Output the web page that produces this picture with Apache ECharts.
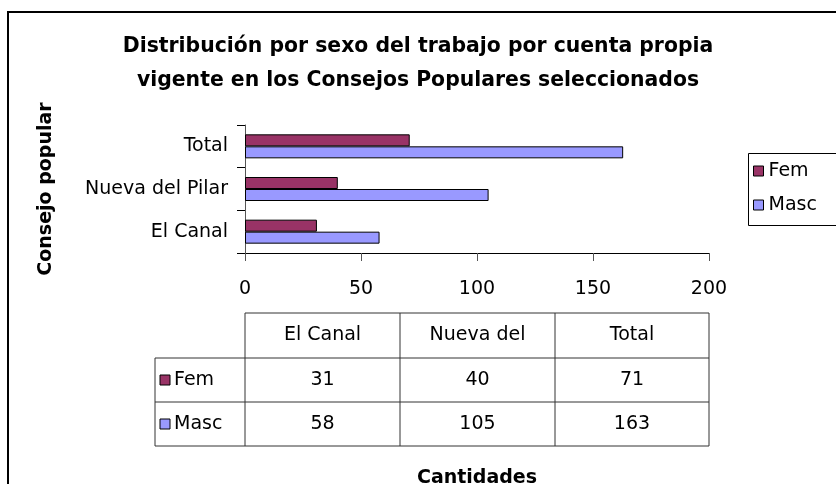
<!DOCTYPE html>
<html>
<head>
<meta charset="utf-8">
<title>Distribución por sexo</title>
<script src="https://cdn.jsdelivr.net/npm/echarts@6/dist/echarts.min.js"></script>
<style>
  html, body { margin: 0; padding: 0; background: #fff; }
  #chartOne { width: 836px; height: 484px; }
</style>
</head>
<body>
<div id="chartOne"></div>
<script>
var categories = ['El Canal', 'Nueva del Pilar', 'Total']
var tableHeaders = ['El Canal', 'Nueva del', 'Total']
var femData = [31, 40, 71]
var mascData = [58, 105, 163]
var xTicks = [0, 50, 100, 150, 200]

var font = 'DejaVu Sans'
var femColor = '#993366'
var mascColor = '#9999FF'

// data table under the plot (Excel style)
function buildTable () {
  var colX = [245, 400, 555, 709]
  var rowY = [313, 358, 402, 446]
  var labelLeft = 155
  var lineStyle = { stroke: '#333', lineWidth: 1 }
  var els = []
  // horizontal lines
  els.push({ type: 'line', shape: { x1: colX[0], y1: rowY[0], x2: colX[3], y2: rowY[0] }, style: lineStyle })
  for (var r = 1; r < rowY.length; r++) {
    els.push({ type: 'line', shape: { x1: labelLeft, y1: rowY[r], x2: colX[3], y2: rowY[r] }, style: lineStyle })
  }
  // vertical lines
  els.push({ type: 'line', shape: { x1: labelLeft, y1: rowY[1], x2: labelLeft, y2: rowY[3] }, style: lineStyle })
  for (var c = 0; c < colX.length; c++) {
    els.push({ type: 'line', shape: { x1: colX[c], y1: rowY[0], x2: colX[c], y2: rowY[3] }, style: lineStyle })
  }
  var rows = [
    { name: 'Fem', color: femColor, values: femData },
    { name: 'Masc', color: mascColor, values: mascData }
  ]
  tableHeaders.forEach(function (h, i) {
    els.push({
      type: 'text',
      style: { text: h, x: (colX[i] + colX[i + 1]) / 2, y: (rowY[0] + rowY[1]) / 2, align: 'center', verticalAlign: 'middle', font: '19px "' + font + '"', fill: '#000' }
    })
  })
  rows.forEach(function (row, r) {
    var cy = (rowY[r + 1] + rowY[r + 2]) / 2
    els.push({ type: 'rect', shape: { x: labelLeft + 5, y: cy - 5, width: 10, height: 10 }, style: { fill: row.color, stroke: '#000', lineWidth: 1 } })
    els.push({ type: 'text', style: { text: row.name, x: labelLeft + 19, y: cy, verticalAlign: 'middle', font: '19px "' + font + '"', fill: '#000' } })
    row.values.forEach(function (v, i) {
      els.push({
        type: 'text',
        style: { text: String(v), x: (colX[i] + colX[i + 1]) / 2, y: cy, align: 'center', verticalAlign: 'middle', font: '19px "' + font + '"', fill: '#000' }
      })
    })
  })
  return els
}

var myChartOne = echarts.init(document.getElementById('chartOne'), null, { renderer: 'canvas' })
myChartOne.setOption({
  backgroundColor: '#fff',
  animation: false,
  textStyle: { fontFamily: font },
  title: {
    text: 'Distribución por sexo del trabajo por cuenta propia\nvigente en los Consejos Populares seleccionados',
    left: 'center',
    top: 25,
    textStyle: { fontFamily: font, fontSize: 20.4, fontWeight: 'bold', color: '#000', lineHeight: 34 }
  },
  legend: {
    data: ['Fem', 'Masc'],
    orient: 'vertical',
    left: 748,
    top: 153,
    padding: [7, 10, 9, 5],
    itemGap: 12,
    itemWidth: 10,
    itemHeight: 10,
    icon: 'rect',
    itemStyle: { borderColor: '#000', borderWidth: 1 },
    textStyle: { fontFamily: font, fontSize: 19, color: '#000', lineHeight: 22 }
  },
  grid: {
    left: 245,
    top: 125,
    width: 464,
    height: 128,
    containLabel: false,
    outerBoundsMode: 'none'
  },
  xAxis: {
    type: 'value',
    min: xTicks[0],
    max: xTicks[xTicks.length - 1],
    interval: 50,
    name: 'Cantidades',
    nameLocation: 'middle',
    nameGap: 216,
    nameTextStyle: { fontFamily: font, fontSize: 19, fontWeight: 'bold', color: '#000' },
    axisLine: { show: true, lineStyle: { color: '#000', width: 1 } },
    axisTick: { show: true, length: 8, lineStyle: { color: '#555' } },
    axisLabel: { color: '#000', fontSize: 19, margin: 27 },
    splitLine: { show: false }
  },
  yAxis: {
    type: 'category',
    data: categories,
    name: 'Consejo popular',
    nameLocation: 'middle',
    nameRotate: 90,
    nameGap: 189,
    nameTextStyle: { fontFamily: font, fontSize: 19, fontWeight: 'bold', color: '#000' },
    axisLine: { show: true, lineStyle: { color: '#555', width: 1 } },
    axisTick: { show: true, length: 8, lineStyle: { color: '#000' } },
    axisLabel: { color: '#000', fontSize: 19, margin: 17 }
  },
  series: [
    {
      name: 'Fem',
      type: 'bar',
      data: femData,
      barWidth: 12,
      barGap: '0%',
      itemStyle: { color: femColor, borderColor: '#000', borderWidth: 1 }
    },
    {
      name: 'Masc',
      type: 'bar',
      data: mascData,
      barWidth: 12,
      barGap: '0%',
      itemStyle: { color: mascColor, borderColor: '#000', borderWidth: 1 }
    }
  ],
  graphic: [
    // outer chart border, runs off the right and bottom edges
    { type: 'rect', silent: true, shape: { x: 8, y: 12, width: 900, height: 520 }, style: { fill: 'none', stroke: '#000', lineWidth: 2 } },
    // legend frame, also cut by the right edge
    { type: 'rect', silent: true, shape: { x: 748.5, y: 153.5, width: 120, height: 72 }, style: { fill: 'none', stroke: '#000', lineWidth: 1 } }
  ].concat(buildTable())
})
</script>
</body>
</html>
